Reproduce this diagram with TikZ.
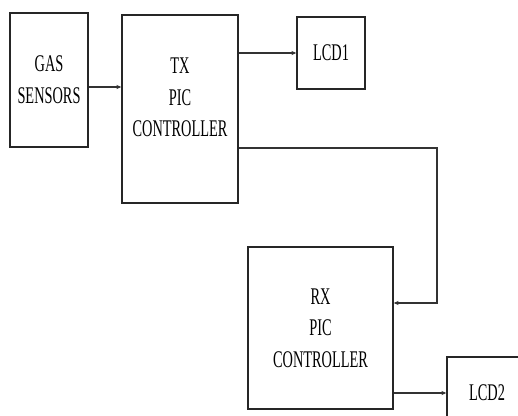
\documentclass[tikz,border=0pt]{standalone}
\usepackage{fontspec}
\usepackage{tikz}
\usetikzlibrary{arrows.meta, positioning, calc}
\newfontfamily\boxfont[FakeStretch=0.6]{Liberation Serif}

\begin{document}
\begin{tikzpicture}[
  x=0.025cm, y=-0.025cm,
  block/.style={rectangle, draw=black!85, line width=1pt, fill=white,
    align=center, font=\boxfont\fontsize{17}{22.5}\selectfont},
  arrow/.style={-{Stealth[length=3.5pt, width=3pt]}, line width=0.8pt, color=black!80}
]
\clip (0,0) rectangle (518,415);
\fill[white] (0,0) rectangle (518,415);

\node[block, minimum width=1.95cm, minimum height=3.35cm] (gas) at (49,80) {GAS\\SENSORS};
\node[block, minimum width=2.9cm, minimum height=4.7cm] (tx) at (180,109) {TX\\PIC\\CONTROLLER\\[-0.2cm]};
\node[block, minimum width=1.7cm, minimum height=1.8cm] (lcd1) at (331,53) {LCD1};
\node[block, minimum width=3.625cm, minimum height=4.05cm] (rx) at (320.5,328) {RX\\PIC\\CONTROLLER};
\node[block, minimum width=2cm, minimum height=1.8cm] (lcd2) at (487,393) {LCD2};
\coordinate (bend) at (437,303);

\draw[arrow] ([yshift=-0.175cm]gas.east) -- ([yshift=-0.175cm]gas.east -| tx.west);
\draw[arrow] (tx.east |- lcd1.west) -- (lcd1.west);
\draw[arrow] ([yshift=-0.975cm]tx.east) -| (bend) -- (bend -| rx.east);
\draw[arrow] (rx.east |- lcd2.west) -- (lcd2.west);

\end{tikzpicture}
\end{document}
